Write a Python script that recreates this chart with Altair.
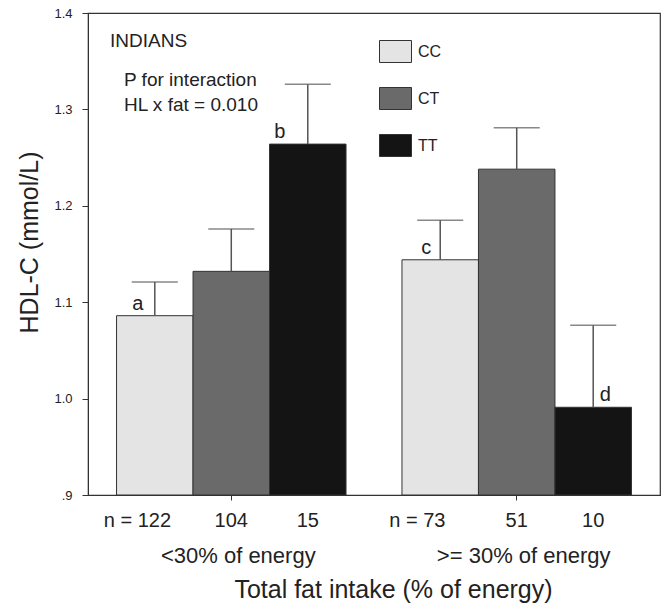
import altair as alt
import pandas as pd

# ---- data ----
groups = ["<30% of energy", ">= 30% of energy"]
genotypes = ["CC", "CT", "TT"]
mean_low_fat = [1.086, 1.132, 1.264]
mean_high_fat = [1.144, 1.238, 0.991]
upper_low_fat = [1.121, 1.176, 1.326]
upper_high_fat = [1.185, 1.281, 1.076]
n_low_fat = [122, 104, 15]
n_high_fat = [73, 51, 10]
letters_low_fat = ["a", "", "b"]
letters_high_fat = ["c", "", "d"]
y_ticks = [0.9, 1.0, 1.1, 1.2, 1.3, 1.4]
bar_colors = ["#e4e4e4", "#6a6a6a", "#141414"]

rows = []
for g, means, ups, ns, lets in [
    (groups[0], mean_low_fat, upper_low_fat, n_low_fat, letters_low_fat),
    (groups[1], mean_high_fat, upper_high_fat, n_high_fat, letters_high_fat),
]:
    for gt, m, u, n, l in zip(genotypes, means, ups, ns, lets):
        rows.append(dict(group=g, genotype=gt, mean=m, upper=u, base=0.9, n=n,
                         letter=l, nlabel=(f"n = {n}" if gt == "CC" else str(n))))
df = pd.DataFrame(rows)

FONT = "Liberation Sans"
TXT = "#222222"
W, H = 572, 482

x_enc = alt.X("group:N", sort=groups,
              scale=alt.Scale(paddingInner=0.196, paddingOuter=0.1),
              axis=alt.Axis(title="Total fat intake (% of energy)", labelAngle=0,
                            labelFontSize=22, labelPadding=62, labelBaseline="alphabetic",
                            labelOffset=7, labelColor=TXT, tickSize=5,
                            titleFontSize=25, titleFontWeight="normal", titleColor=TXT,
                            titleX=305, titleY=102, titleBaseline="alphabetic",
                            titleAlign="center", domainColor="#333", tickColor="#333"))
xo_enc = alt.XOffset("genotype:N", sort=genotypes,
                     scale=alt.Scale(paddingInner=0, paddingOuter=0))
y_scale = alt.Scale(domain=[0.9, 1.4], nice=False, zero=False)
y_axis = alt.Axis(title="HDL-C (mmol/L)", values=y_ticks, grid=False,
                  labelExpr="datum.value < 0.95 ? '.9' : format(datum.value, '.1f')",
                  labelFontSize=13, labelPadding=10, labelColor=TXT, tickSize=6,
                  titleFontSize=25, titleFontWeight="normal", titleColor=TXT,
                  titleAngle=270, titleX=-51, titleY=229,
                  titleBaseline="alphabetic", titleAlign="center",
                  domainColor="#333", tickColor="#333")


def y_enc(field):
    return alt.Y(field, scale=y_scale, axis=y_axis, title="HDL-C (mmol/L)")


base = alt.Chart(df)

bars = base.mark_bar(stroke="#333333", strokeWidth=1).encode(
    x=x_enc, xOffset=xo_enc,
    y=y_enc("mean:Q"),
    y2="base:Q",
    color=alt.Color("genotype:N", sort=genotypes,
                    scale=alt.Scale(domain=genotypes, range=bar_colors),
                    legend=alt.Legend(title=None, orient="none", legendX=291, legendY=22,
                                      symbolType="M-1,-0.6875H1V0.6875H-1Z",
                                      symbolSize=1024, symbolStrokeColor="#333",
                                      symbolStrokeWidth=1, symbolOpacity=1,
                                      labelFontSize=16, labelColor=TXT, labelOffset=6,
                                      labelBaseline="middle", rowPadding=17, padding=0)),
)

err = base.mark_rule(color="#555555", strokeWidth=1.5).encode(
    x=x_enc, xOffset=xo_enc,
    y=y_enc("mean:Q"), y2="upper:Q",
)
caps = base.mark_tick(color="#555555", thickness=1.5, size=46).encode(
    x=x_enc, xOffset=xo_enc,
    y=y_enc("upper:Q"),
)

letter_dx = {"a": -17, "b": -28, "c": -14, "d": 12}
letter_layers = []
for let, dx in letter_dx.items():
    letter_layers.append(
        base.transform_filter(alt.datum.letter == let).mark_text(
            fontSize=20, font=FONT, color=TXT, baseline="alphabetic", align="center",
            dx=dx, dy=-6).encode(
            x=x_enc, xOffset=xo_enc,
            y=y_enc("mean:Q"), text="letter:N")
    )

n_first = base.transform_filter(alt.datum.genotype == "CC").mark_text(
    fontSize=20, font=FONT, color=TXT, baseline="alphabetic", align="left", dx=-51).encode(
    x=x_enc, xOffset=xo_enc, y=alt.value(H + 32), text="nlabel:N")
n_rest = base.transform_filter(alt.datum.genotype != "CC").mark_text(
    fontSize=20, font=FONT, color=TXT, baseline="alphabetic", align="center").encode(
    x=x_enc, xOffset=xo_enc, y=alt.value(H + 32), text="nlabel:N")

notes_text = ["INDIANS", "P for interaction", "HL x fat = 0.010"]
notes = alt.Chart(pd.DataFrame({"t": notes_text, "i": [0, 1, 2]}))
note_layers = []
for i, (xx, yy) in enumerate([(22, 34), (36, 73), (36, 98)]):
    note_layers.append(
        notes.transform_filter(alt.datum.i == i).mark_text(
            fontSize=19, font=FONT, color=TXT, align="left", baseline="alphabetic").encode(
            x=alt.value(xx), y=alt.value(yy), text="t:N")
    )

chart = alt.layer(bars, err, caps, *letter_layers, n_first, n_rest, *note_layers).properties(
    width=W, height=H,
    padding={"left": 88, "top": 13, "right": 7, "bottom": 112},
    autosize=alt.AutoSizeParams(type="none"),
).configure(font=FONT).configure_view(stroke="#333333", strokeWidth=1.2)

chart.save("out.html", embed_options={"renderer": "svg", "actions": False})
